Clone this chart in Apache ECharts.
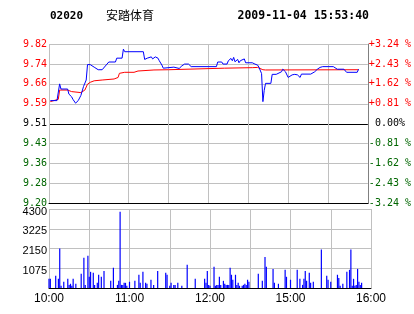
<!DOCTYPE html>
<html><head><meta charset="utf-8">
<script src="https://cdn.jsdelivr.net/npm/echarts@6/dist/echarts.min.js"></script>
<style>html,body{margin:0;padding:0;background:#fff;}#c{width:414px;height:314px;}</style>
</head><body><div id="c"></div>
<script>
// ---------- data ----------
const stockCode = '02020';
const stockName = '安踏体育';
const stampText = '2009-11-04 15:53:40';
const prevClose = 9.51;
const priceTicks = ['9.20','9.28','9.36','9.43','9.51','9.59','9.66','9.74','9.82'];
const pctTicks = ['-3.24 %','-2.43 %','-1.62 %','-0.81 %','0.00%','+0.81 %','+1.62 %','+2.43 %','+3.24 %'];
const volTicks = ['0','1075','2150','3225','4300'];
const timeTicks = ['10:00','','11:00','','12:00','','15:00','','16:00'];

const priceTimes = ['10:01','10:06','10:08','10:09','10:14','10:15','10:17','10:18','10:20','10:22','10:24','10:26','10:28','10:29','10:31','10:34','10:37','10:40','10:45','10:50','10:51','10:55','10:56','10:57','11:11','11:12','11:14','11:15','11:17','11:18','11:20','11:22','11:23','11:25','11:26','11:27','11:34','11:35','11:38','11:40','11:42','11:45','11:47','12:06','12:07','12:10','12:11','12:14','12:15','12:16','12:17','12:18','12:19','12:20','12:22','12:23','12:24','12:25','12:27','12:28','14:33','14:35','14:37','14:38','14:39','14:40','14:41','14:42','14:43','14:47','14:48','14:51','14:55','14:56','14:58','15:00','15:03','15:05','15:07','15:09','15:10','15:17','15:20','15:22','15:24','15:26','15:34','15:37','15:42','15:44','15:52','15:53'];
const priceValues = [9.60,9.60,9.665,9.645,9.645,9.625,9.615,9.605,9.59,9.60,9.62,9.655,9.68,9.74,9.74,9.73,9.72,9.72,9.75,9.75,9.765,9.765,9.80,9.79,9.79,9.76,9.765,9.77,9.77,9.762,9.77,9.765,9.755,9.738,9.726,9.73,9.73,9.725,9.725,9.735,9.742,9.742,9.732,9.732,9.75,9.75,9.742,9.742,9.755,9.75,9.764,9.755,9.768,9.751,9.76,9.747,9.755,9.75,9.762,9.747,9.747,9.742,9.738,9.73,9.725,9.705,9.596,9.64,9.667,9.667,9.702,9.702,9.712,9.722,9.712,9.69,9.70,9.702,9.70,9.69,9.703,9.703,9.712,9.722,9.729,9.732,9.732,9.722,9.722,9.71,9.71,9.722];

const avgTimes = ['10:01','10:07','10:08','10:14','10:17','10:24','10:27','10:29','10:31','10:34','10:40','10:49','10:52','10:53','10:57','11:04','11:07','11:19','11:30','12:12','14:33','14:37','14:41','14:43','15:53'];
const avgValues = [9.596,9.605,9.641,9.641,9.635,9.631,9.641,9.664,9.671,9.677,9.68,9.684,9.69,9.706,9.71,9.71,9.715,9.719,9.72,9.726,9.728,9.729,9.72,9.719,9.72];

const volTimes = ['10:00','10:01','10:05','10:07','10:08','10:09','10:11','10:14','10:15','10:16','10:17','10:18','10:20','10:24','10:26','10:27','10:29','10:30','10:31','10:33','10:34','10:36','10:37','10:39','10:41','10:46','10:48','10:51','10:52','10:53','10:54','10:55','10:56','10:57','10:58','11:00','11:04','11:07','11:08','11:10','11:12','11:13','11:16','11:18','11:21','11:27','11:28','11:30','11:31','11:33','11:34','11:36','11:39','11:43','11:49','11:56','11:57','11:58','11:59','12:00','12:03','12:04','12:05','12:06','12:07','12:08','12:10','12:11','12:12','12:13','12:14','12:15','12:16','12:17','12:19','12:20','12:21','12:22','12:24','12:25','12:26','12:27','12:28','12:29','14:36','14:39','14:41','14:42','14:47','14:48','14:51','14:56','14:57','15:00','15:05','15:07','15:09','15:10','15:11','15:12','15:14','15:15','15:17','15:23','15:27','15:28','15:30','15:35','15:36','15:37','15:39','15:42','15:44','15:45','15:46','15:47','15:48','15:49','15:50','15:51','15:52','15:53'];
const volValues = [500,500,660,500,2150,120,340,500,170,230,120,500,230,770,1640,170,1750,610,880,830,170,280,720,610,930,390,1100,170,390,4150,170,170,280,280,120,340,390,720,280,880,280,230,450,170,930,830,720,120,280,170,170,280,120,1260,500,500,280,930,170,120,1150,120,170,170,610,170,390,230,170,170,170,1100,720,450,720,170,280,120,120,170,230,170,450,340,770,390,1690,1150,1040,280,230,990,610,450,990,500,170,500,930,390,830,280,340,2100,660,450,340,720,550,120,230,880,990,2100,120,500,120,170,1040,340,170,280];

// ---------- helpers ----------
function tradeMinute(t) {
  const p = t.split(':'); const v = (+p[0]) * 60 + (+p[1]);
  return v <= 12 * 60 + 30 ? v - 600 : v - (14 * 60 + 30) + 150;
}
const PRICE_MIN = 9.20, PRICE_MAX = 9.82, PRICE_STEP = 0.0775;
const VOL_MAX = 4300, VOL_STEP = 1075;
const GRID = '#c0c0c0', RED = '#ff0000', GREEN = '#006600', BLUE = '#0000ff';
const MONO = '"DejaVu Sans Mono", monospace';
const SANS = '"Liberation Sans", Arial, sans-serif';

const pricePts = priceTimes.map((t, i) => [tradeMinute(t), priceValues[i]]);
const avgPts = avgTimes.map((t, i) => [tradeMinute(t), avgValues[i]]);
const volPts = volTimes.map((t, i) => [tradeMinute(t), volValues[i]]);
const idxOf = v => Math.round((v - PRICE_MIN) / PRICE_STEP);
const colorOf = v => Math.abs(v - prevClose) < 1e-6 ? '#000' : (v > prevClose ? RED : GREEN);

const chart = echarts.init(document.getElementById('c'), null, {renderer: 'canvas'});
const xBase = {
  type: 'value', min: 0, max: 240, interval: 30,
  axisTick: {show: false},
  splitLine: {show: true, lineStyle: {color: GRID, width: 1}}
};
chart.setOption({
  animation: false,
  backgroundColor: '#fff',
  grid: [
    {left: 49, right: 43, top: 44, height: 159.5},
    {left: 49, right: 43, top: 209, height: 79}
  ],
  xAxis: [
    Object.assign({}, xBase, {gridIndex: 0, axisLine: {show: true, lineStyle: {color: '#000', width: 1}}, axisLabel: {show: false}}),
    Object.assign({}, xBase, {gridIndex: 1, axisLine: {show: true, lineStyle: {color: '#000', width: 1}},
      axisLabel: {show: true, margin: 5, color: '#000', fontFamily: SANS, fontSize: 12,
        formatter: v => timeTicks[Math.round(v / 30)] || ''}})
  ],
  yAxis: [
    {type: 'value', gridIndex: 0, min: PRICE_MIN, max: PRICE_MAX, interval: PRICE_STEP, position: 'left',
      axisLine: {show: false}, axisTick: {show: false},
      axisLabel: {margin: 2, fontFamily: MONO, fontSize: 10,
        formatter: v => priceTicks[idxOf(v)] || '',
        color: v => colorOf(v)},
      splitLine: {show: true, lineStyle: {width: 1,
        color: ['#000', GRID, GRID, GRID, '#000', GRID, GRID, GRID, GRID]}}},
    {type: 'value', gridIndex: 0, min: PRICE_MIN, max: PRICE_MAX, interval: PRICE_STEP, position: 'right',
      axisLine: {show: true, lineStyle: {color: '#808080', width: 1}}, axisTick: {show: false},
      axisLabel: {margin: 1, fontFamily: MONO, fontSize: 10, align: 'left',
        formatter: v => { const s = pctTicks[idxOf(v)] || ''; return /^\d/.test(s) ? ' ' + s : s; },
        color: v => colorOf(v)},
      splitLine: {show: false}},
    {type: 'value', gridIndex: 1, min: 0, max: VOL_MAX, interval: VOL_STEP,
      axisLine: {show: false}, axisTick: {show: false},
      axisLabel: {margin: 2, showMinLabel: false, fontFamily: SANS, fontSize: 11, color: '#000',
        verticalAlign: 'top', lineHeight: 5,
        formatter: v => volTicks[Math.round(v / VOL_STEP)] || ''},
      splitLine: {show: true, lineStyle: {color: GRID, width: 1}}}
  ],
  series: [
    {type: 'line', name: 'avg', xAxisIndex: 0, yAxisIndex: 0, data: avgPts, symbol: 'none',
      lineStyle: {color: RED, width: 1}, itemStyle: {color: RED}, z: 3},
    {type: 'line', name: 'price', xAxisIndex: 0, yAxisIndex: 0, data: pricePts, symbol: 'none',
      lineStyle: {color: BLUE, width: 1}, itemStyle: {color: BLUE}, z: 4},
    {type: 'bar', name: 'vol', xAxisIndex: 1, yAxisIndex: 2, data: volPts, barWidth: 1.2,
      itemStyle: {color: BLUE}}
  ],
  graphic: [
    {type: 'text', x: 50, y: 16.5, style: {text: stockCode, font: 'bold 11px ' + MONO, fill: '#000', verticalAlign: 'middle'}},
    {type: 'text', x: 106, y: 15, style: {text: stockName, font: '12px "Noto Sans CJK SC"', fill: '#000', verticalAlign: 'middle'}},
    {type: 'text', x: 237.5, y: 16.5, style: {text: stampText, font: 'bold 11.5px ' + MONO, fill: '#000', verticalAlign: 'middle'}}
  ]
});
</script></body></html>
